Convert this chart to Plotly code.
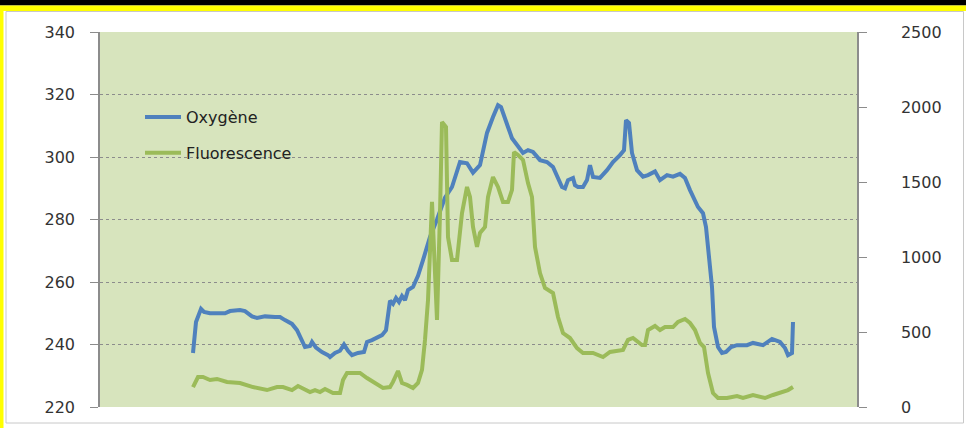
import plotly.graph_objects as go

# Sample index (horizontal position of each reading)
oxy_x = [0, 3, 8, 11, 17, 32, 37, 47, 52, 55, 59, 64, 72, 82, 87, 92, 99, 104, 109, 112,
         117, 119, 123, 129, 135, 137, 142, 147, 151, 155, 159, 165, 171, 174, 179, 185,
         189, 193, 197, 200, 203, 206, 209, 212, 215, 220, 225, 230, 237, 244, 249, 252,
         259, 262, 267, 274, 280, 287, 290, 294, 300, 305, 308, 312, 315, 319, 324, 330,
         335, 340, 347, 354, 360, 364, 369, 372, 375, 380, 382, 385, 390, 394, 397, 400,
         407, 414, 420, 427, 431, 433, 436, 439, 444, 450, 455, 462, 467, 474, 480, 487,
         492, 497, 502, 505, 510, 513, 515, 519, 521, 525, 529, 533, 538, 544, 554, 560,
         570, 579, 587, 592, 595, 599, 600]
oxy_y = [237.3, 247.2, 251.4, 250.4, 250.0, 250.0, 250.7, 251.0, 250.7, 250.0, 249.0, 248.5,
         249.0, 248.8, 248.8, 247.8, 246.6, 244.6, 241.4, 239.2, 239.5, 240.8, 239.0, 237.6,
         236.6, 236.0, 237.3, 238.0, 240.0, 238.0, 236.6, 237.3, 237.6, 240.8, 241.4, 242.4,
         243.0, 244.6, 254.0, 253.0, 254.9, 253.6, 255.5, 254.2, 257.4, 258.4, 262.0, 267.0,
         274.4, 280.0, 284.0, 287.0, 290.4, 293.6, 298.4, 298.0, 295.0, 297.4, 302.2, 307.7,
         312.8, 316.6, 316.0, 311.8, 309.6, 306.0, 303.8, 301.3, 302.2, 301.6, 299.0, 298.4,
         296.8, 293.6, 290.4, 290.0, 292.6, 293.3, 291.0, 290.4, 290.4, 292.6, 297.4, 293.6,
         293.3, 295.8, 298.4, 300.6, 302.2, 311.8, 310.9, 301.3, 295.8, 293.7, 294.2, 295.4,
         292.6, 294.2, 293.7, 294.6, 293.3, 289.4, 286.2, 284.0, 282.0, 277.6, 271.2, 258.4,
         245.6, 239.2, 237.3, 237.6, 239.2, 239.8, 239.8, 240.5, 239.8, 241.8, 240.8, 238.9,
         236.6, 237.3, 247.2]

fluo_x = [0, 5, 10, 17, 24, 34, 47, 60, 74, 84, 90, 99, 105, 112, 117, 122, 127, 132, 140,
          147, 150, 154, 167, 174, 184, 190, 197, 200, 205, 209, 214, 220, 225, 229, 232,
          235, 239, 244, 247, 249, 253, 255, 259, 264, 269, 274, 277, 280, 284, 287, 292,
          295, 300, 305, 310, 315, 319, 321, 325, 330, 335, 339, 342, 347, 352, 360, 365,
          370, 377, 384, 390, 400, 410, 417, 430, 435, 440, 449, 452, 455, 462, 467, 472,
          480, 485, 492, 497, 502, 507, 511, 515, 520, 525, 534, 544, 550, 560, 572, 580,
          589, 595, 600]
fluo_y = [133, 200, 200, 180, 187, 167, 160, 133, 113, 133, 133, 113, 140, 113, 100, 113,
          100, 120, 93, 93, 180, 227, 227, 193, 147, 127, 133, 167, 240, 160, 147, 127, 160,
          247, 447, 713, 1367, 580, 1293, 1900, 1867, 1133, 980, 980, 1293, 1467, 1400, 1200,
          1067, 1160, 1200, 1400, 1533, 1467, 1367, 1367, 1447, 1700, 1680, 1647, 1493, 1400,
          1067, 893, 793, 760, 600, 493, 460, 393, 360, 360, 333, 367, 380, 447, 460, 413,
          413, 513, 540, 513, 533, 533, 567, 587, 560, 513, 427, 400, 227, 93, 60, 60, 73,
          60, 80, 60, 80, 100, 113, 133]

left_ticks = [220, 240, 260, 280, 300, 320, 340]
right_ticks = [0, 500, 1000, 1500, 2000, 2500]

W, H = 966, 428
L, R, T, B = 100, 109, 32, 21
pw, ph = W - L - R, H - T - B

def px(x):
    return (x - L) / pw

def py(y):
    return (H - B - y) / ph

fig = go.Figure()
fig.add_trace(go.Scatter(x=oxy_x, y=oxy_y, mode="lines", name="Oxygène",
                         line=dict(color="#4f81bd", width=4), legendgroup="a"))
fig.add_trace(go.Scatter(x=fluo_x, y=fluo_y, mode="lines", name="Fluorescence", yaxis="y2",
                         line=dict(color="#9bbb59", width=4), legendgroup="b"))

tickfont = dict(family="DejaVu Sans", size=16, color="#333333")
fig.update_layout(
    width=W, height=H,
    margin=dict(l=L, r=R, t=T, b=B),
    paper_bgcolor="white",
    plot_bgcolor="#d7e4bd",
    showlegend=True,
    legend=dict(x=px(140), y=py(100), xanchor="left", yanchor="top", itemwidth=36,
                bgcolor="rgba(0,0,0,0)", font=dict(family="DejaVu Sans", size=16, color="#222222"),
                tracegroupgap=12),
    xaxis=dict(range=[-93, 664], visible=False, showgrid=False, zeroline=False),
    yaxis=dict(range=[220, 340], tickvals=left_ticks, showgrid=True, gridcolor="#8c8c8c",
               griddash="dot", gridwidth=1, zeroline=False, showline=True, linecolor="#8c8c8c",
               linewidth=1.5, ticks="outside", ticklen=8, tickcolor="#8c8c8c",
               tickfont=tickfont, ticklabelstandoff=12),
    yaxis2=dict(range=[0, 2500], tickvals=right_ticks, overlaying="y", side="right",
                showgrid=False, zeroline=False, showline=True, linecolor="#8c8c8c",
                linewidth=1.5, ticks="outside", ticklen=8, tickcolor="#8c8c8c",
                tickfont=tickfont, ticklabelstandoff=31),
    shapes=[
        dict(type="rect", xref="paper", yref="paper", x0=px(0), x1=px(W), y0=py(5.5), y1=py(0),
             fillcolor="black", line_width=0, layer="above"),
        dict(type="rect", xref="paper", yref="paper", x0=px(0), x1=px(W), y0=py(11), y1=py(5.5),
             fillcolor="#ffff00", line_width=0, layer="above"),
        dict(type="rect", xref="paper", yref="paper", x0=px(0), x1=px(3.5), y0=py(H), y1=py(11),
             fillcolor="#ffff00", line_width=0, layer="above"),
        dict(type="rect", xref="paper", yref="paper", x0=px(6), x1=px(963.5), y0=py(423), y1=py(11.5),
             fillcolor="rgba(0,0,0,0)", line=dict(color="#c8c8c8", width=1), layer="below"),
    ],
)

fig.write_html("out.html", config={"displayModeBar": False},
               post_script="document.body.style.margin='0';")
